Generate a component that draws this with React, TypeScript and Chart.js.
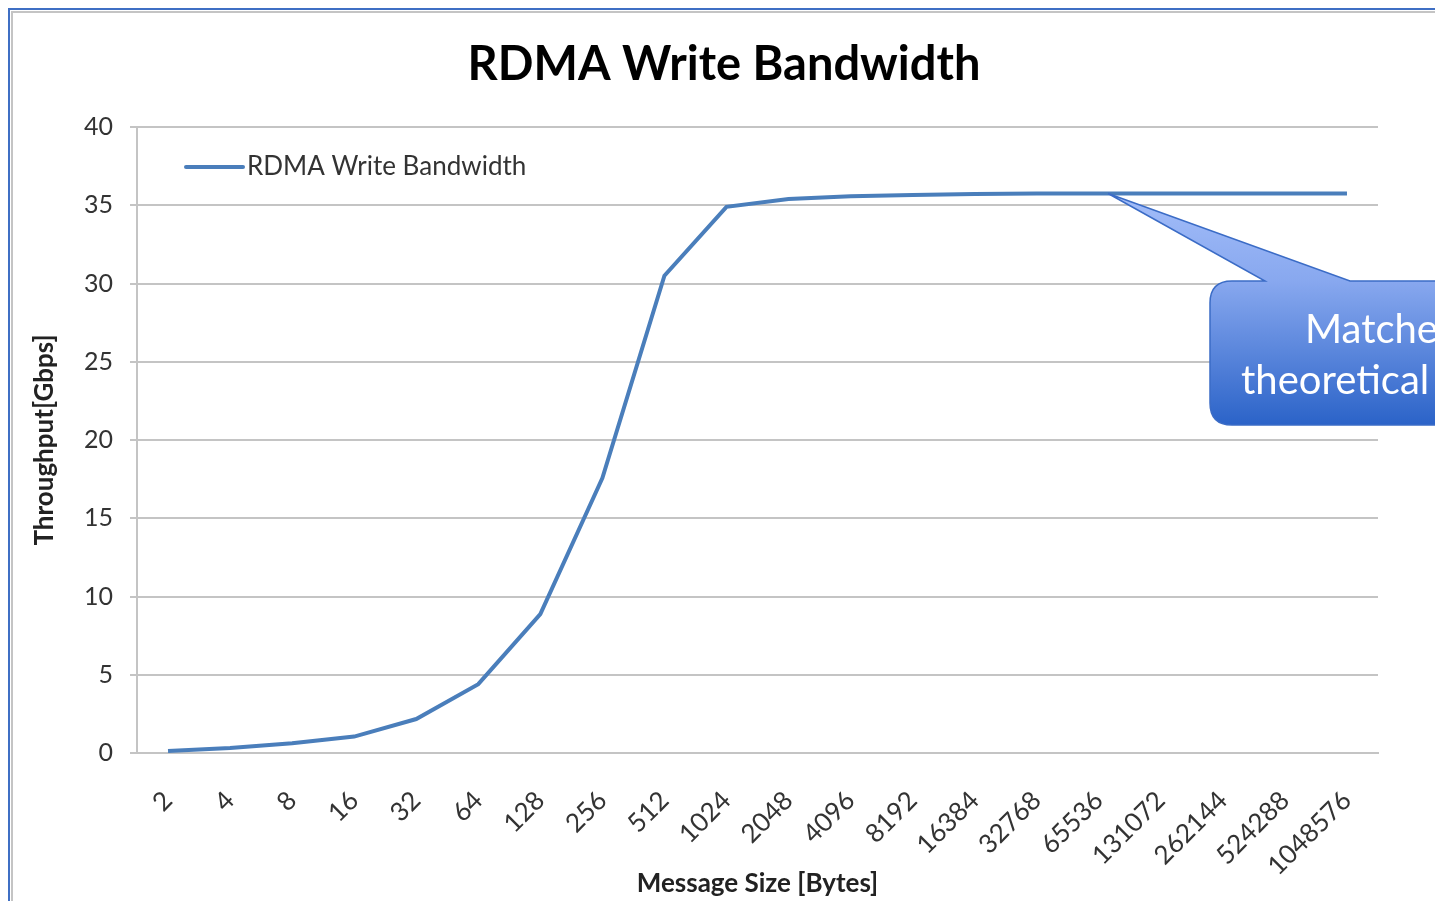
import React, { useEffect, useRef } from "react";
import { Chart, registerables } from "chart.js";

Chart.register(...registerables);

const messageSizes = [
  "2", "4", "8", "16", "32", "64", "128", "256", "512", "1024", "2048",
  "4096", "8192", "16384", "32768", "65536", "131072", "262144", "524288", "1048576",
];
const bandwidthGbps = [
  0.13, 0.32, 0.62, 1.05, 2.17, 4.4, 8.88, 17.57, 30.5, 34.9, 35.4,
  35.57, 35.66, 35.72, 35.75, 35.75, 35.75, 35.75, 35.75, 35.75,
];
const yTickStep = 5;
const yMin = 0;
const yMax = 40;
const seriesLabel = "RDMA Write Bandwidth";
const calloutLines = ["Matche", "theoretical"];
const calloutIndex = 15.15;

const FONT = "Lato, 'Open Sans', sans-serif";
const LINE_COLOR = "#4a7ebb";
const GRID_COLOR = "#c4c4c4";
const TEXT_COLOR = "#333333";

const legendPlugin = {
  id: "insideLegend",
  afterDraw(chart: any) {
    const ctx = chart.ctx;
    const ds = chart.data.datasets[0];
    ctx.save();
    ctx.strokeStyle = ds.borderColor;
    ctx.lineWidth = 4;
    ctx.lineCap = "round";
    ctx.beginPath();
    ctx.moveTo(173, 154);
    ctx.lineTo(230, 154);
    ctx.stroke();
    ctx.fillStyle = TEXT_COLOR;
    ctx.font = `26px ${FONT}`;
    ctx.textBaseline = "middle";
    ctx.textAlign = "left";
    ctx.fillText(ds.label, 234, 154);
    ctx.restore();
  },
};

const calloutPlugin = {
  id: "callout",
  afterDatasetsDraw(chart: any) {
    const ctx = chart.ctx;
    const xs = chart.scales.x;
    const ys = chart.scales.y;
    const tipX = xs.getPixelForValue(calloutIndex);
    const tipY = ys.getPixelForValue(bandwidthGbps[15]);
    const left = 1197;
    const top = 268;
    const bottom = 412;
    const right = 1460;
    const r = 22;
    const baseL = 1252;
    const baseR = 1337;
    ctx.save();
    const grad = ctx.createLinearGradient(0, tipY, 0, bottom);
    grad.addColorStop(0, "#a3bdf9");
    grad.addColorStop((top - tipY) / (bottom - tipY), "#88a8ef");
    grad.addColorStop(1, "#2b63c8");
    ctx.beginPath();
    ctx.moveTo(left + r, top);
    ctx.lineTo(baseL, top);
    ctx.lineTo(tipX, tipY);
    ctx.lineTo(baseR, top);
    ctx.lineTo(right, top);
    ctx.lineTo(right, bottom);
    ctx.lineTo(left + r, bottom);
    ctx.quadraticCurveTo(left, bottom, left, bottom - r);
    ctx.lineTo(left, top + r);
    ctx.quadraticCurveTo(left, top, left + r, top);
    ctx.closePath();
    ctx.fillStyle = grad;
    ctx.fill();
    ctx.strokeStyle = "#3b6cc6";
    ctx.lineWidth = 1.5;
    ctx.stroke();
    ctx.fillStyle = "#ffffff";
    ctx.font = `40px ${FONT}`;
    ctx.textAlign = "left";
    ctx.textBaseline = "alphabetic";
    ctx.fillText(calloutLines[0], 1292, 330);
    ctx.fillText(calloutLines[1], 1228, 381);
    ctx.restore();
  },
};

export default function App() {
  const ref = useRef<HTMLCanvasElement | null>(null);
  useEffect(() => {
    if (!ref.current) return;
    const chart = new Chart(ref.current, {
      type: "line",
      data: {
        labels: messageSizes,
        datasets: [
          {
            label: seriesLabel,
            data: bandwidthGbps,
            borderColor: LINE_COLOR,
            backgroundColor: LINE_COLOR,
            borderWidth: 4,
            pointRadius: 0,
            tension: 0,
            fill: false,
          },
        ],
      },
      options: {
        responsive: false,
        animation: false,
        layout: { padding: 0 },
        plugins: {
          legend: { display: false },
          tooltip: { enabled: false },
          title: {
            display: true,
            text: seriesLabel,
            color: "#000000",
            font: { family: FONT, size: 47, weight: "bold" },
            padding: { top: 24, bottom: 33.6 },
          },
        },
        scales: {
          x: {
            type: "category",
            offset: true,
            grid: { display: false, drawTicks: false },
            border: { display: true, color: GRID_COLOR, width: 2 },
            ticks: {
              autoSkip: false,
              maxRotation: 45,
              minRotation: 45,
              padding: 32,
              color: TEXT_COLOR,
              font: { family: FONT, size: 26 },
            },
            title: {
              display: true,
              text: "Message Size [Bytes]",
              color: "#222222",
              font: { family: FONT, size: 26, weight: "bold" },
              padding: { top: 0, bottom: 2 },
            },
            afterFit: (s: any) => {
              s.height = 148;
            },
          },
          y: {
            min: yMin,
            max: yMax,
            ticks: {
              stepSize: yTickStep,
              padding: 17,
              color: TEXT_COLOR,
              font: { family: FONT, size: 25 },
            },
            grid: { color: GRID_COLOR, lineWidth: 2, tickLength: 7, drawTicks: true },
            border: { display: true, color: GRID_COLOR, width: 2 },
            title: {
              display: true,
              text: "Throughput[Gbps]",
              color: "#222222",
              font: { family: FONT, size: 26, weight: "bold" },
              padding: { top: 16, bottom: 0 },
            },
            afterFit: (s: any) => {
              s.width = 124;
            },
          },
          yRightSpace: {
            type: "linear",
            position: "right",
            display: true,
            grid: { display: false, drawTicks: false },
            border: { display: false },
            ticks: { display: false },
            afterFit: (s: any) => {
              s.width = 57;
            },
          },
        },
      },
      plugins: [calloutPlugin, legendPlugin],
    } as any);
    return () => chart.destroy();
  }, []);

  return (
    <div
      style={{
        position: "fixed",
        left: 8,
        top: 8,
        width: 1427,
        height: 893,
        boxSizing: "border-box",
        borderTop: "2px solid #3f6fc4",
        borderLeft: "2px solid #3f6fc4",
        overflow: "hidden",
        background: "#ffffff",
      }}
    >
      <div
        style={{
          position: "absolute",
          left: 1,
          top: 1,
          right: 0,
          bottom: 0,
          borderTop: "2px solid #c4c4c4",
          borderLeft: "2px solid #c4c4c4",
        }}
      >
        <canvas ref={ref} width={1422} height={888} style={{ display: "block" }} />
      </div>
    </div>
  );
}
